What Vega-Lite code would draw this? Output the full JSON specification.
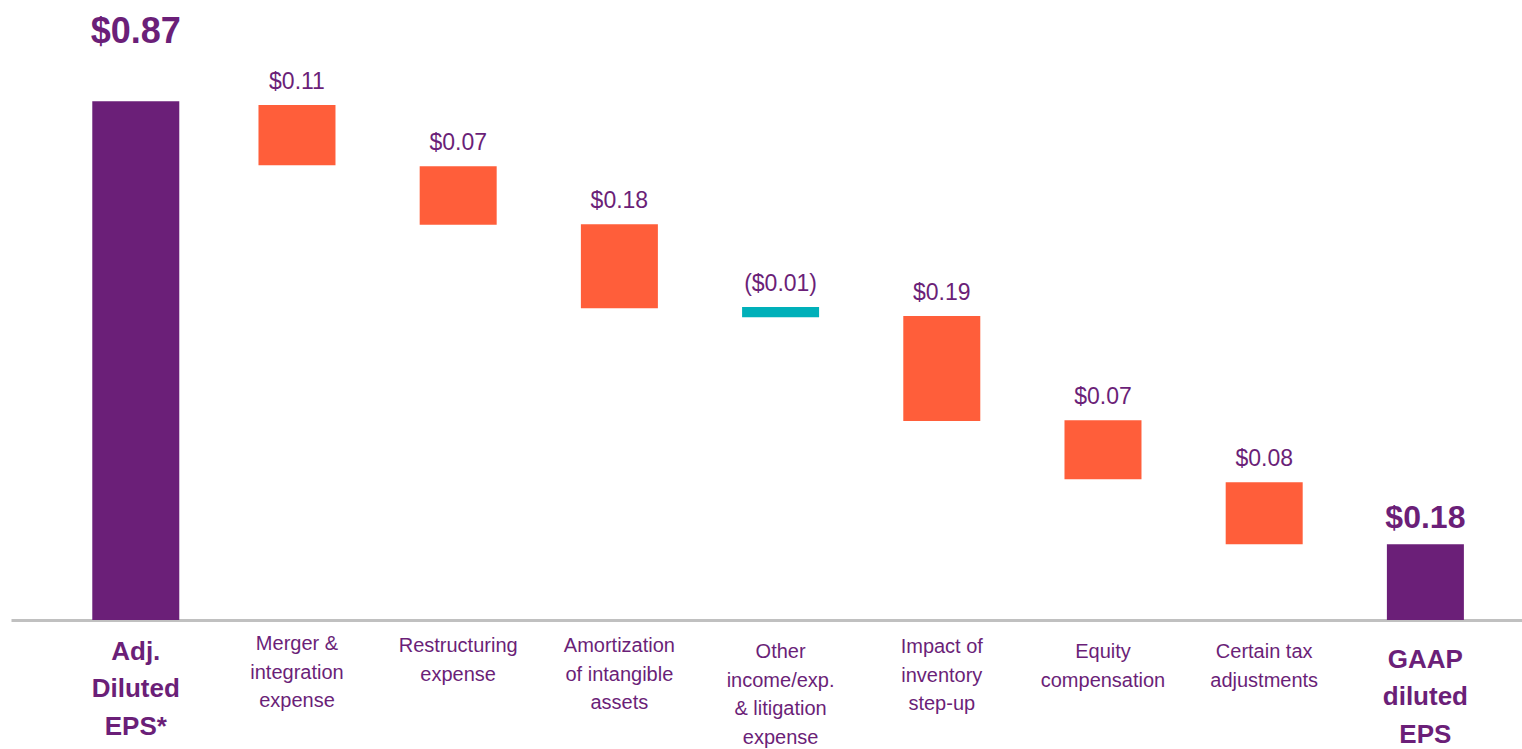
{
  "$schema": "https://vega.github.io/schema/vega-lite/v6.json",
  "width": 1511,
  "height": 620,
  "autosize": {"type": "none"},
  "padding": {"left": 11, "top": 0, "right": 0, "bottom": 129},
  "background": "white",
  "config": {"view": {"stroke": null}, "font": "Liberation Sans"},
  "data": {
    "values": [
      {"cat": "Adj.|Diluted|EPS*", "low": 0, "high": 0.87, "kind": "total", "label": "$0.87"},
      {"cat": "Merger &|integration|expense", "low": 0.763, "high": 0.864, "kind": "reduction", "label": "$0.11"},
      {"cat": "Restructuring|expense", "low": 0.663, "high": 0.761, "kind": "reduction", "label": "$0.07"},
      {"cat": "Amortization|of intangible|assets", "low": 0.523, "high": 0.664, "kind": "reduction", "label": "$0.18"},
      {"cat": "Other|income/exp.|& litigation|expense", "low": 0.508, "high": 0.525, "kind": "addition", "label": "($0.01)"},
      {"cat": "Impact of|inventory|step-up", "low": 0.334, "high": 0.510, "kind": "reduction", "label": "$0.19"},
      {"cat": "Equity|compensation", "low": 0.236, "high": 0.335, "kind": "reduction", "label": "$0.07"},
      {"cat": "Certain tax|adjustments", "low": 0.127, "high": 0.231, "kind": "reduction", "label": "$0.08"},
      {"cat": "GAAP|diluted|EPS", "low": 0, "high": 0.127, "kind": "total", "label": "$0.18"}
    ]
  },
  "resolve": {"axis": {"x": "independent"}},
  "layer": [
    {
      "mark": {"type": "bar"},
      "encoding": {
        "x": {
          "field": "cat",
          "type": "nominal",
          "sort": null,
          "scale": {"paddingInner": 0, "paddingOuter": 0.1867, "align": 0.734},
          "axis": {
            "orient": "bottom",
            "title": null,
            "ticks": false,
            "domainColor": "#C0C0C0",
            "domainWidth": 3,
            "labelAngle": 0,
            "labelLimit": 0,
            "labelBaseline": "top",
            "labelColor": "#6B1F78",
            "labelFont": "Liberation Sans",
            "labelFontSize": 20,
            "labelLineHeight": 28.5,
            "labelPadding": {
              "condition": [
                {"test": "datum.value === 'Merger &|integration|expense'", "value": 13.5},
                {"test": "datum.value === 'Impact of|inventory|step-up'", "value": 16.5},
                {"test": "datum.value === 'Other|income/exp.|& litigation|expense' || datum.value === 'Equity|compensation' || datum.value === 'Certain tax|adjustments'", "value": 21.5}
              ],
              "value": 15.5
            },
            "labelExpr": "(datum.value === 'Adj.|Diluted|EPS*' || datum.value === 'GAAP|diluted|EPS') ? '' : split(datum.value, '|')"
          }
        },
        "y": {"field": "low", "type": "quantitative", "scale": {"domain": [0, 1.04], "nice": false, "zero": false}, "axis": null},
        "y2": {"field": "high"},
        "color": {
          "field": "kind",
          "type": "nominal",
          "scale": {"domain": ["total", "reduction", "addition"], "range": ["#6B1F78", "#FF5E3A", "#00B0B9"]},
          "legend": null
        },
        "size": {"condition": {"test": "datum.label === '$0.87'", "value": 87}, "value": 77}
      }
    },
    {
      "transform": [{"filter": "datum.kind !== 'total'"}],
      "mark": {"type": "text", "baseline": "alphabetic", "dy": -16, "fontSize": 23, "color": "#6B1F78", "font": "Liberation Sans"},
      "encoding": {
        "x": {"field": "cat", "type": "nominal", "sort": null, "axis": null},
        "y": {"field": "high", "type": "quantitative"},
        "text": {"field": "label"}
      }
    },
    {
      "transform": [{"filter": "datum.label === '$0.87'"}],
      "mark": {"type": "text", "baseline": "alphabetic", "dy": -58, "fontSize": 36, "fontWeight": "bold", "color": "#6B1F78", "font": "Liberation Sans"},
      "encoding": {
        "x": {"field": "cat", "type": "nominal", "sort": null, "axis": null},
        "y": {"field": "high", "type": "quantitative"},
        "text": {"field": "label"}
      }
    },
    {
      "transform": [{"filter": "datum.kind === 'total' && datum.label !== '$0.87'"}],
      "mark": {"type": "text", "baseline": "alphabetic", "dy": -16, "fontSize": 32, "fontWeight": "bold", "color": "#6B1F78", "font": "Liberation Sans"},
      "encoding": {
        "x": {
          "field": "cat",
          "type": "nominal",
          "sort": null,
          "axis": {
            "orient": "bottom",
            "title": null,
            "ticks": false,
            "domain": false,
            "labelAngle": 0,
            "labelLimit": 0,
            "labelBaseline": "top",
            "labelColor": "#6B1F78",
            "labelFont": "Liberation Sans",
            "labelFontSize": 26,
            "labelFontWeight": "bold",
            "labelLineHeight": 37.5,
            "labelPadding": {
              "condition": {"test": "datum.value === 'GAAP|diluted|EPS'", "value": 26},
              "value": 18
            },
            "labelExpr": "(datum.value === 'Adj.|Diluted|EPS*' || datum.value === 'GAAP|diluted|EPS') ? split(datum.value, '|') : ''"
          }
        },
        "y": {"field": "high", "type": "quantitative"},
        "text": {"field": "label"}
      }
    }
  ]
}
